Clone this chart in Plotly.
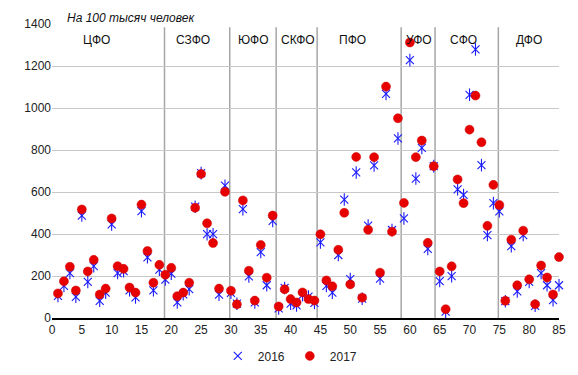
import plotly.graph_objects as go

idx = list(range(1, 86))
y2016 = [105, 153, 214, 101, 488, 172, 247, 82, 121, 446,
         214, 223, 132, 98, 509, 289, 132, 230, 183, 211,
         74, 113, 137, 530, 690, 399, 399, 111, 630, 120,
         68, 518, 198, 74, 314, 156, 462, 46, 143, 68,
         60, 109, 102, 72, 360, 153, 121, 300, 564, 185,
         693, 92, 440, 727, 187, 1067, 419, 855, 474, 1228,
         664, 810, 329, 723, 176, 30, 199, 613, 586, 1063,
         1279, 728, 395, 547, 508, 80, 342, 127, 395, 172,
         58, 214, 156, 85, 156]
y2017 = [117, 175, 244, 131, 517, 222, 277, 112, 140, 474,
         247, 234, 145, 121, 540, 319, 168, 253, 206, 239,
         104, 121, 168, 525, 686, 451, 357, 140, 601, 130,
         65, 560, 225, 83, 348, 192, 488, 55, 137, 90,
         74, 122, 90, 83, 399, 179, 151, 325, 501, 160,
         767, 97, 420, 766, 216, 1102, 411, 951, 548, 1312,
         766, 845, 358, 723, 222, 42, 246, 660, 547, 897,
         1059, 837, 439, 634, 538, 82, 373, 156, 416, 184,
         66, 250, 193, 112, 290]

region_names = ["ЦФО", "СЗФО", "ЮФО", "СКФО", "ПФО", "УФО", "СФО", "ДФО"]
region_label_x = [7.4, 23.7, 33.8, 41.2, 50.4, 61.5, 69.0, 79.9]
region_bounds = [18.86, 29.8, 37.58, 44.45, 58.54, 64.22, 74.83]
x_ticks = list(range(0, 90, 5))
y_ticks = list(range(0, 1600, 200))

FONT = "Liberation Sans, Arial, sans-serif"
BLUE = "#1a1aff"
RED = "#e60000"

fig = go.Figure()

# 2016: six-armed star made of an x and a vertical bar
fig.add_trace(go.Scatter(
    x=idx, y=y2016, mode="markers", name="2016", legendgroup="2016",
    marker=dict(symbol="x-thin-open", size=8, color=BLUE,
                line=dict(color=BLUE, width=1.1)),
    cliponaxis=False))
fig.add_trace(go.Scatter(
    x=idx, y=y2016, mode="markers", name="2016", legendgroup="2016",
    showlegend=False,
    marker=dict(symbol="line-ns-open", size=9, color=BLUE,
                line=dict(color=BLUE, width=1.1)),
    cliponaxis=False))
fig.add_trace(go.Scatter(
    x=idx, y=y2017, mode="markers", name="2017",
    marker=dict(symbol="circle", size=9, color=RED,
                line=dict(color="#d00000", width=0.5)),
    cliponaxis=False))

for b in region_bounds:
    fig.add_shape(type="line", xref="x", yref="y", x0=b, x1=b, y0=0, y1=1385,
                  line=dict(color="#a6a6a6", width=1.5), layer="below")

for name, xc in zip(region_names, region_label_x):
    fig.add_annotation(x=xc, y=1325, xref="x", yref="y", text=name,
                       showarrow=False, font=dict(family=FONT, size=12, color="#111"))

fig.add_annotation(x=2.2, y=1, xref="x", yref="paper", text="<i>На 100 тысяч человек</i>",
                   showarrow=False, xanchor="left", yanchor="bottom", yshift=-3,
                   font=dict(family=FONT, size=12, color="#111"))

# page body has an 8px margin, so the figure is 8px smaller and margins shifted
fig.update_layout(
    width=570, height=367,
    margin=dict(l=44, r=19, t=16, b=57, autoexpand=False),
    paper_bgcolor="white", plot_bgcolor="white",
    font=dict(family=FONT, size=12, color="#222"),
    showlegend=True,
    legend=dict(orientation="h", x=0.47, xanchor="center",
                yref="container", y=0.052, yanchor="middle",
                font=dict(family=FONT, size=12, color="#222"),
                itemwidth=30, tracegroupgap=0, bgcolor="rgba(0,0,0,0)"),
    xaxis=dict(range=[0, 85], tickmode="array", tickvals=x_ticks, automargin=False,
               showgrid=False, zeroline=False, showline=True, linecolor="#000",
               linewidth=2, ticks="", tickfont=dict(size=12, color="#222")),
    yaxis=dict(range=[0, 1400], tickmode="array", tickvals=y_ticks, automargin=False,
               showgrid=True, gridcolor="#c8c8c8", gridwidth=1, zeroline=False,
               showline=False, ticks="", tickfont=dict(size=12, color="#222")),
)

fig.write_html("out.html")
